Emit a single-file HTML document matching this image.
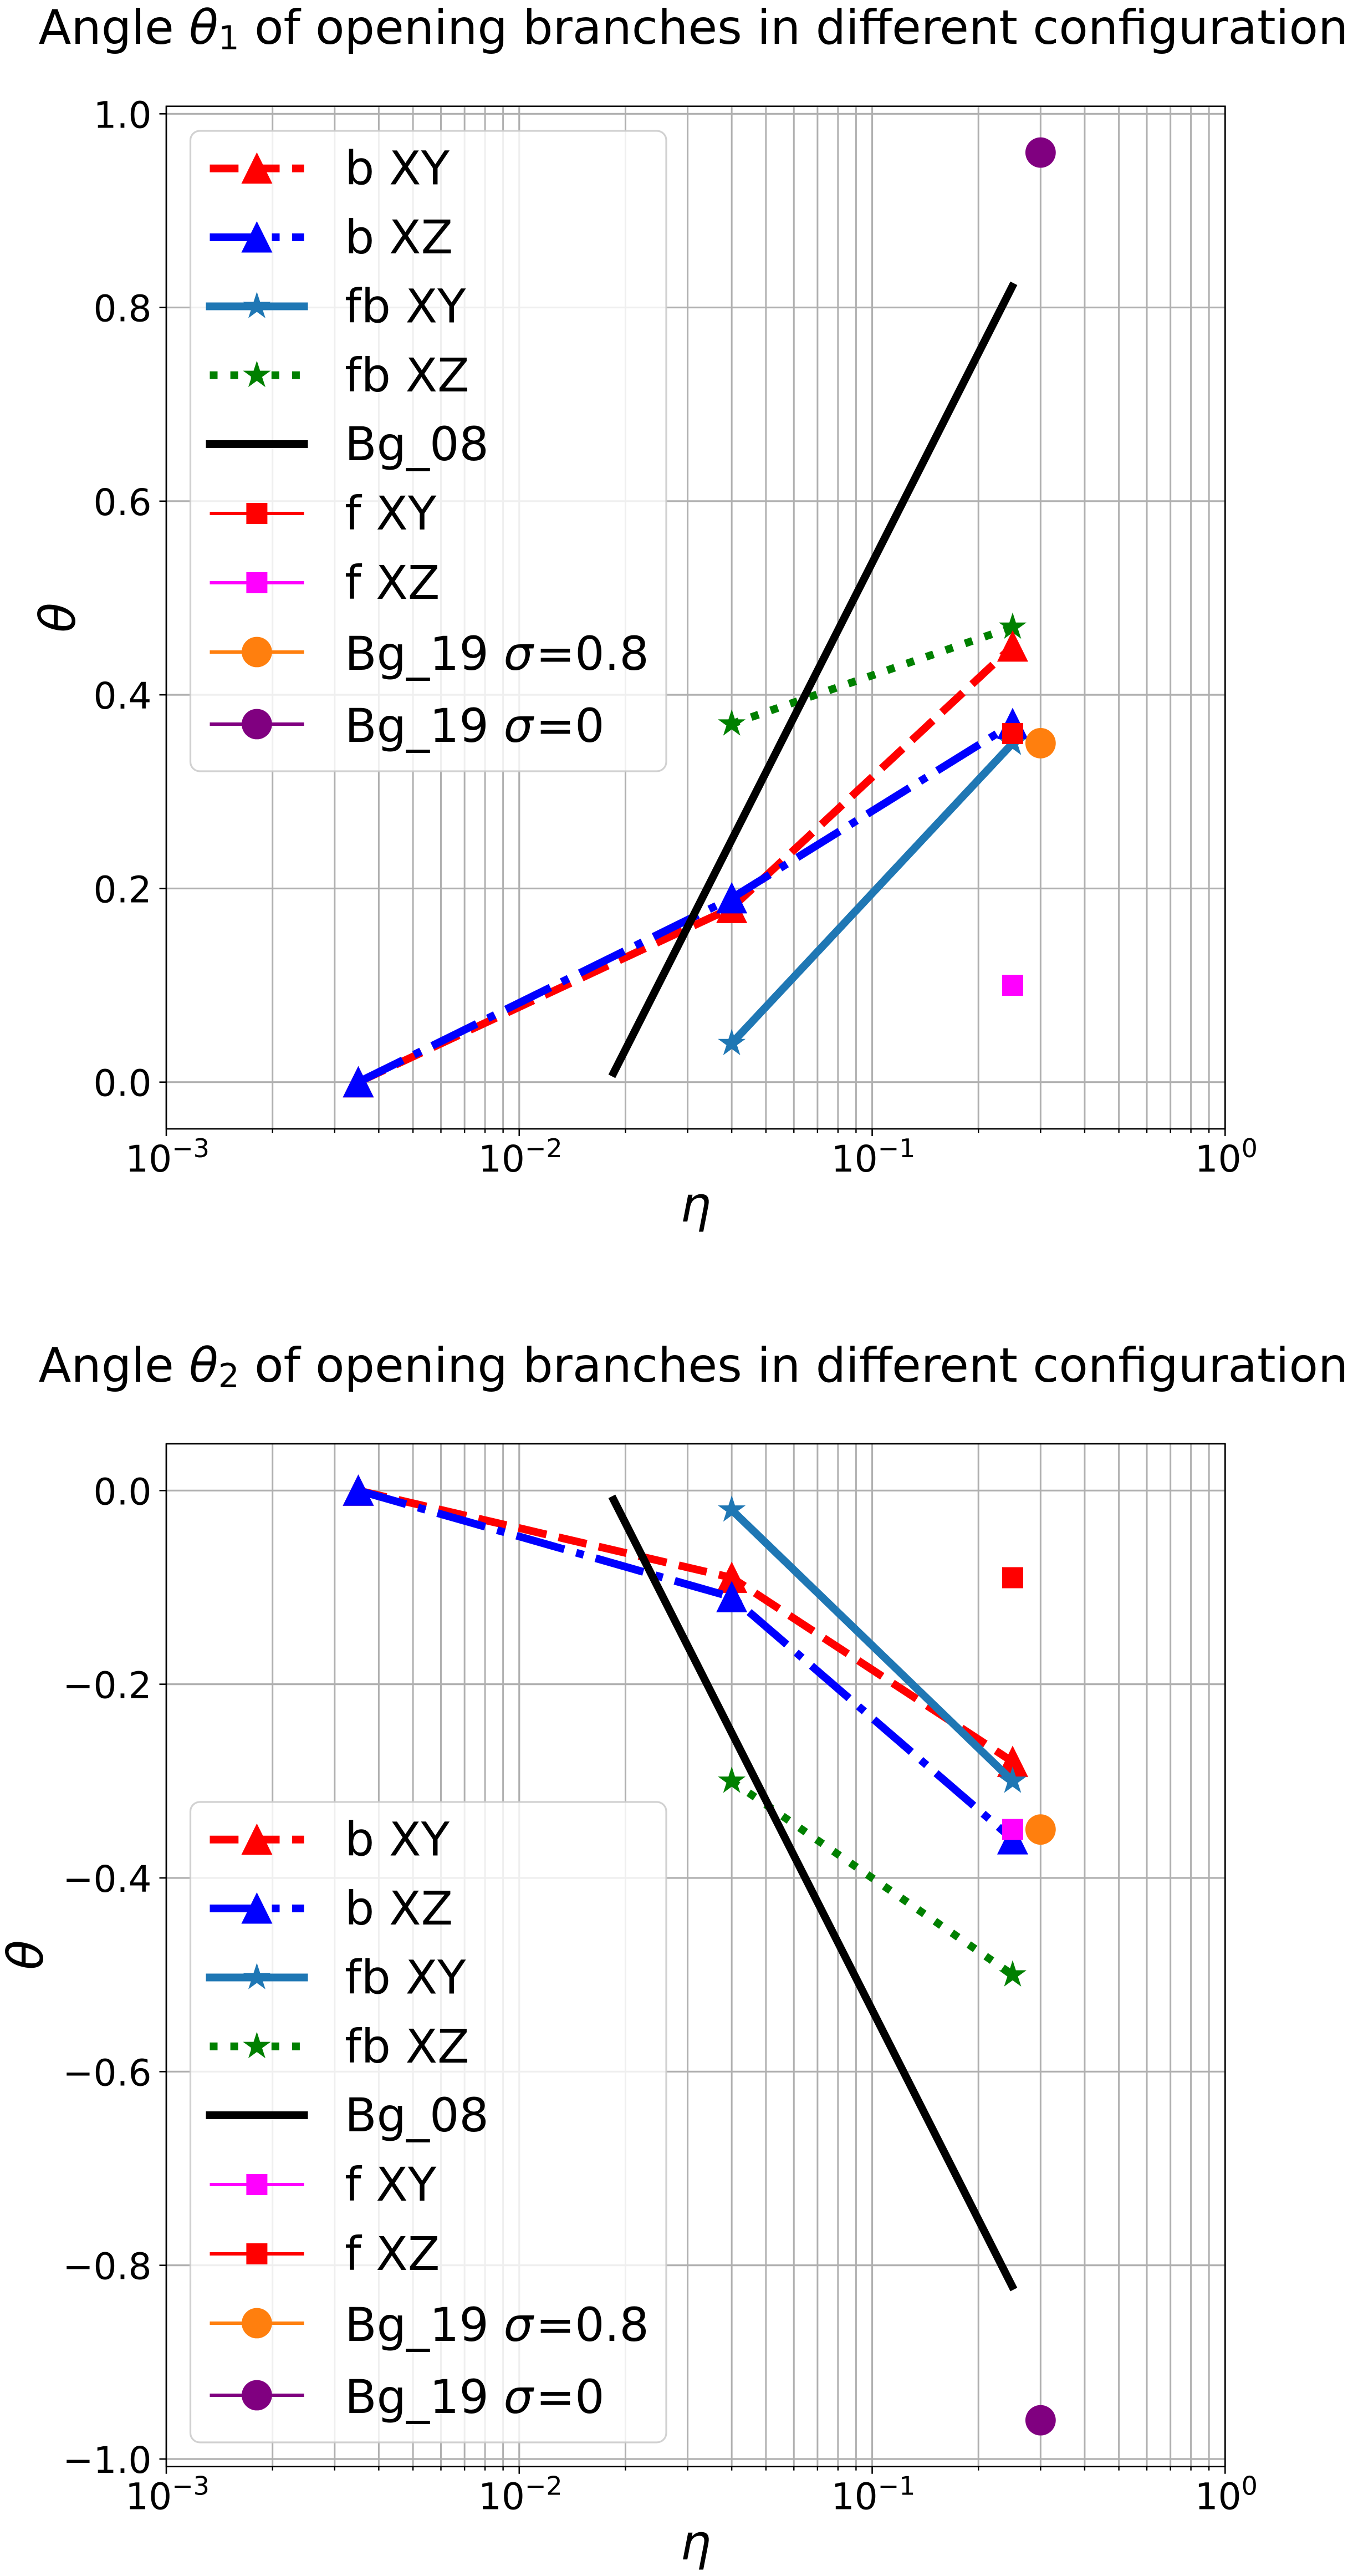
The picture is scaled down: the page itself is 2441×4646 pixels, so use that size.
<!DOCTYPE html>
<html lang="en">
<head>
<meta charset="utf-8">
<title>Opening branch angles</title>
<style>
html,body{margin:0;padding:0;background:#fff;}
svg{display:block;font-family:"DejaVu Sans","Liberation Sans",sans-serif;}
.math{font-style:italic;}
</style>
</head>
<body>
<svg id="chart" xmlns="http://www.w3.org/2000/svg" width="2441" height="4646" viewBox="0 0 2441 4646">
  <rect x="0" y="0" width="2441" height="4646" fill="#fff"/>
  <g id="panel-1"></g>
  <g id="panel-2"></g>

  <text x="1251" y="79" text-anchor="middle" font-size="85.8">Angle <tspan class="math">θ</tspan><tspan font-size="60" dy="10">1</tspan><tspan dy="-10"> of opening branches in different configuration</tspan></text>
  <text x="1255" y="2203" text-anchor="middle" font-size="88" class="math">η</text>
  <text x="0" y="0" transform="translate(135 1114) rotate(-90)" text-anchor="middle" font-size="88" class="math">θ</text>

  <text x="1251" y="2492" text-anchor="middle" font-size="85.8">Angle <tspan class="math">θ</tspan><tspan font-size="60" dy="10">2</tspan><tspan dy="-10"> of opening branches in different configuration</tspan></text>
  <text x="1255" y="4616" text-anchor="middle" font-size="88" class="math">η</text>
  <text x="0" y="0" transform="translate(77 3526) rotate(-90)" text-anchor="middle" font-size="88" class="math">θ</text>
</svg>
<script>
// ---- shared axis data ----
const xMajorExponents = [-3, -2, -1, 0];
const xMinorMultipliers = [2, 3, 4, 5, 6, 7, 8, 9];

// ---- x values ----
const etaBranch = [0.0035, 0.04, 0.25];
const etaFb = [0.04, 0.25];
const etaBg08 = [0.0183, 0.252];
const etaF = [0.25];
const etaBg19 = [0.3];

// ---- panel 1 values ----
const yTicks1 = [0, 0.2, 0.4, 0.6, 0.8, 1.0];
const yTickLabels1 = ['0.0', '0.2', '0.4', '0.6', '0.8', '1.0'];
const theta1bXY = [0, 0.18, 0.45];
const theta1bXZ = [0, 0.19, 0.37];
const theta1fbXY = [0.04, 0.35];
const theta1fbXZ = [0.37, 0.47];
const theta1Bg08 = [0.006, 0.825];
const theta1fXY = [0.36];
const theta1fXZ = [0.10];
const theta1Bg19s08 = [0.35];
const theta1Bg19s0 = [0.96];

// ---- panel 2 values ----
const yTicks2 = [0, -0.2, -0.4, -0.6, -0.8, -1.0];
const yTickLabels2 = ['0.0', '\u22120.2', '\u22120.4', '\u22120.6', '\u22120.8', '\u22121.0'];
const theta2bXY = [0, -0.09, -0.28];
const theta2bXZ = [0, -0.11, -0.36];
const theta2fbXY = [-0.02, -0.30];
const theta2fbXZ = [-0.30, -0.50];
const theta2Bg08 = [-0.006, -0.825];
const theta2fXY = [-0.35];
const theta2fXZ = [-0.09];
const theta2Bg19s08 = [-0.35];
const theta2Bg19s0 = [-0.96];

// ---- styles (no data) ----
const RED = '#ff0000', BLUE = '#0000ff', TEAL = '#1f77b4', GREEN = '#008000',
      BLACK = '#000000', MAGENTA = '#ff00ff', ORANGE = '#ff7f0e', PURPLE = '#800080';
const DASHED = '51.8 22.4', DASHDOT = '89.6 22.4 14 22.4', DOTTED = '14 23.1';
const NS = 'http://www.w3.org/2000/svg';
const X_LEFT = 300, X_RIGHT = 2210.3;
const DECADE = (X_RIGHT - X_LEFT) / 3;

function xScale(eta) { return X_LEFT + DECADE * (Math.log10(eta) + 3); }

function make(tag, attrs, parent) {
  const el = document.createElementNS(NS, tag);
  for (const k in attrs) el.setAttribute(k, attrs[k]);
  parent.appendChild(el);
  return el;
}

function drawMarker(parent, kind, cx, cy, color, name) {
  let el;
  if (kind === 'triangle') {
    el = make('polygon', {points: cx + ',' + (cy - 29) + ' ' + (cx + 28) + ',' + (cy + 27.5) + ' ' + (cx - 28) + ',' + (cy + 27.5), fill: color}, parent);
  } else if (kind === 'star') {
    const pts = [];
    for (let i = 0; i < 10; i++) {
      const r = i % 2 === 0 ? 19.5 : 19.5 * 0.381966;
      const a = -Math.PI / 2 + i * Math.PI / 5;
      pts.push((cx + r * Math.cos(a)).toFixed(2) + ',' + (cy + r * Math.sin(a)).toFixed(2));
    }
    el = make('polygon', {points: pts.join(' '), fill: color, stroke: color, 'stroke-width': 4.2, 'stroke-linejoin': 'miter', 'stroke-miterlimit': 10}, parent);
  } else if (kind === 'square') {
    el = make('rect', {x: cx - 19, y: cy - 19, width: 38, height: 38, fill: color}, parent);
  } else {
    el = make('circle', {cx: cx, cy: cy, r: 27.4, fill: color}, parent);
  }
  
  
  return el;
}

function drawPanel(g, layout, yTicks, yTickLabels, series, legendRows) {
  const yScale = function (v) { return layout.y0 - layout.k * v; };
  const grid = make('g', {}, g);
  
  

  // vertical gridlines + x ticks
  xMajorExponents.forEach(function (e) {
    const xm = xScale(Math.pow(10, e));
    const gl = make('line', {x1: xm, x2: xm, y1: layout.top, y2: layout.bottom, stroke: '#b0b0b0', 'stroke-width': 3.2}, grid);
    
    
    const tk = make('line', {x1: xm, x2: xm, y1: layout.bottom, y2: layout.bottom + 13, stroke: '#000', 'stroke-width': 2.6}, g);
    
    
    const lab = make('text', {x: xm + 2, y: layout.bottom + 77, 'text-anchor': 'middle', 'font-size': 66}, g);
    
    
    lab.textContent = '10';
    const sup = make('tspan', {'font-size': 46, dy: -26}, lab);
    sup.textContent = e < 0 ? '\u2212' + (-e) : String(e);
    if (e < 0) {
      xMinorMultipliers.forEach(function (m) {
        const x = xScale(m * Math.pow(10, e));
        const mg = make('line', {x1: x, x2: x, y1: layout.top, y2: layout.bottom, stroke: '#b0b0b0', 'stroke-width': 3}, grid);
        
        
        const mt = make('line', {x1: x, x2: x, y1: layout.bottom, y2: layout.bottom + 7, stroke: '#000', 'stroke-width': 2.4}, g);
        
        
      });
    }
  });

  // horizontal gridlines + y ticks
  yTicks.forEach(function (v, i) {
    const y = yScale(v);
    const gl = make('line', {x1: X_LEFT, x2: X_RIGHT, y1: y, y2: y, stroke: '#b0b0b0', 'stroke-width': 3.2}, grid);
    
    
    const tk = make('line', {x1: X_LEFT - 12.5, x2: X_LEFT, y1: y, y2: y, stroke: '#000', 'stroke-width': 2.6}, g);
    
    
    const lab = make('text', {x: 273.5, y: y + 25, 'text-anchor': 'end', 'font-size': 66}, g);
    
    
    lab.textContent = yTickLabels[i];
  });

  // series
  series.forEach(function (s) {
    const sg = make('g', {}, g);
    
    
    if (s.xs.length > 1) {
      const pts = s.xs.map(function (x, i) { return xScale(x).toFixed(2) + ',' + yScale(s.ys[i]).toFixed(2); }).join(' ');
      const attrs = {points: pts, fill: 'none', stroke: s.color, 'stroke-width': s.lw, 'stroke-linejoin': 'round'};
      if (s.dash) { attrs['stroke-dasharray'] = s.dash; } else if (s.marker) { attrs['stroke-linecap'] = 'square'; }
      const pl = make('polyline', attrs, sg);
      
      
    }
    if (s.marker) {
      s.xs.forEach(function (x, i) {
        drawMarker(sg, s.marker, xScale(x), yScale(s.ys[i]), s.color, 'point-' + s.key);
      });
    }
  });

  // spines
  const spine = make('rect', {x: X_LEFT, y: layout.top, width: X_RIGHT - X_LEFT, height: layout.bottom - layout.top, fill: 'none', stroke: '#000', 'stroke-width': 2.6}, g);
  
  

  // legend
  const lg = make('g', {}, g);
  
  
  const box = make('rect', {x: 343.5, y: layout.legendTop, width: 858.5, height: 1155, rx: 17, ry: 17, fill: '#fff', 'fill-opacity': 0.8, stroke: '#cccccc', 'stroke-opacity': 0.9, 'stroke-width': 3.2}, lg);
  
  

  legendRows.forEach(function (r) {
    const s = r.style;
    const y = layout.legendTop + r.offset;
    const e = make('g', {}, lg);
    
    
    const la = {x1: 378.5, x2: 548.5, y1: y, y2: y, stroke: s.color, 'stroke-width': s.lw || 6};
    if (s.dash) { la['stroke-dasharray'] = s.dash; } else if (s.lw) { la['stroke-linecap'] = 'square'; }
    const ln = make('line', la, e);
    
    
    if (s.marker) {
      drawMarker(e, s.marker, 463.4, y, s.color, 'legend-marker-' + s.key);
    }
    const t = make('text', {x: 622, y: y + 29 + (r.math ? 3 : 0), 'font-size': 84}, e);
    
    
    t.appendChild(document.createTextNode(r.pre));
    if (r.math) {
      const m = make('tspan', {'font-style': 'italic'}, t);
      m.textContent = r.math;
      const post = make('tspan', {dx: 5}, t);
      post.textContent = r.post;
    }
  });
}

// style rows shared by both panels
const stBXY = {key: 'b-xy', color: RED, lw: 14, dash: DASHED, marker: 'triangle'};
const stBXZ = {key: 'b-xz', color: BLUE, lw: 14, dash: DASHDOT, marker: 'triangle'};
const stFbXY = {key: 'fb-xy', color: TEAL, lw: 14, marker: 'star'};
const stFbXZ = {key: 'fb-xz', color: GREEN, lw: 14, dash: DOTTED, marker: 'star'};
const stBg08 = {key: 'bg-08', color: BLACK, lw: 14};
const stBg19a = {key: 'bg-19-s08', color: ORANGE, marker: 'circle'};
const stBg19b = {key: 'bg-19-s0', color: PURPLE, marker: 'circle'};

function withData(st, xs, ys) { return Object.assign({}, st, {xs: xs, ys: ys}); }

function legendFor(fRow1, fRow2) {
  return [
    {style: stBXY, offset: 67.7, pre: 'b XY'},
    {style: stBXZ, offset: 192, pre: 'b XZ'},
    {style: stFbXY, offset: 316.5, pre: 'fb XY'},
    {style: stFbXZ, offset: 440.8, pre: 'fb XZ'},
    {style: stBg08, offset: 565, pre: 'Bg_08'},
    {style: fRow1.st, offset: 690, pre: fRow1.text},
    {style: fRow2.st, offset: 815, pre: fRow2.text},
    {style: stBg19a, offset: 940, pre: 'Bg_19 ', math: '\u03c3', post: '=0.8'},
    {style: stBg19b, offset: 1070, pre: 'Bg_19 ', math: '\u03c3', post: '=0'}
  ];
}

const stRedSq = {key: 'f-red', color: RED, marker: 'square'};
const stMagSq = {key: 'f-magenta', color: MAGENTA, marker: 'square'};

drawPanel(
  document.getElementById('panel-1'),
  {top: 191.7, bottom: 2036, y0: 1951.7, k: 1746.4, legendTop: 236},
  yTicks1, yTickLabels1,
  [
    withData(stFbXZ, etaFb, theta1fbXZ),
    withData(stBXY, etaBranch, theta1bXY),
    withData(stFbXY, etaFb, theta1fbXY),
    withData(stBXZ, etaBranch, theta1bXZ),
    withData(stBg08, etaBg08, theta1Bg08),
    withData(stRedSq, etaF, theta1fXY),
    withData(stMagSq, etaF, theta1fXZ),
    withData(stBg19a, etaBg19, theta1Bg19s08),
    withData(stBg19b, etaBg19, theta1Bg19s0)
  ],
  legendFor({st: stRedSq, text: 'f XY'}, {st: stMagSq, text: 'f XZ'})
);

drawPanel(
  document.getElementById('panel-2'),
  {top: 2604, bottom: 4448.7, y0: 2688.3, k: 1746.7, legendTop: 3250},
  yTicks2, yTickLabels2,
  [
    withData(stFbXZ, etaFb, theta2fbXZ),
    withData(stBXY, etaBranch, theta2bXY),
    withData(stFbXY, etaFb, theta2fbXY),
    withData(stBXZ, etaBranch, theta2bXZ),
    withData(stBg08, etaBg08, theta2Bg08),
    withData(stMagSq, etaF, theta2fXY),
    withData(stRedSq, etaF, theta2fXZ),
    withData(stBg19a, etaBg19, theta2Bg19s08),
    withData(stBg19b, etaBg19, theta2Bg19s0)
  ],
  legendFor({st: stMagSq, text: 'f XY'}, {st: stRedSq, text: 'f XZ'})
);
</script>
</body>
</html>
